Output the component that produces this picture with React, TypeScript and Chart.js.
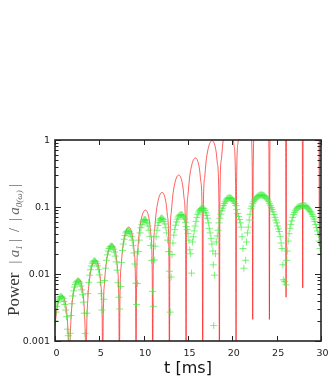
import React, { useEffect, useRef } from "react";
import { Chart, registerables } from "chart.js";

Chart.register(...registerables);

// ---- axis ticks ----
const xTicks = [0, 5, 10, 15, 20, 25, 30];
const xTickLabels = ["0", "5", "10", "15", "20", "25", "30"];
const yTicks = [0.001, 0.01, 0.1, 1];
const yTickLabels = ["0.001", "0.01", "0.1", "1"];
const yMinorMultipliers = [2, 3, 4, 5, 6, 7, 8, 9];

// ---- red line: |a1| / |a0(w)| [t ms, value] ----
const redCurve: [number, number][] = [
  [-0.27, 0.0002], [-0.214, 0.000334], [-0.044, 0.00138], [0.106, 0.00231], [0.294, 0.00338], [0.52, 0.00435], [0.783, 0.0048], [0.97, 0.00456], [1.14, 0.00388], [1.272, 0.00307], [1.384, 0.00218], [1.554, 0.00059],
  [1.6, 0.0002], [1.656, 0.00059], [1.826, 0.00244], [1.976, 0.0041], [2.164, 0.00598], [2.39, 0.00771], [2.653, 0.0085], [2.84, 0.00807], [3.01, 0.00687], [3.142, 0.00543], [3.254, 0.00387], [3.424, 0.00105],
  [3.5, 0.0002], [3.556, 0.00113], [3.726, 0.00468], [3.876, 0.00786], [4.064, 0.01148], [4.29, 0.01478], [4.553, 0.0163], [4.74, 0.01547], [4.91, 0.01317], [5.042, 0.01042], [5.154, 0.00742], [5.324, 0.002],
  [5.38, 0.0002], [5.436, 0.00195], [5.606, 0.00804], [5.756, 0.0135], [5.944, 0.0197], [6.17, 0.0254], [6.433, 0.028], [6.62, 0.0266], [6.79, 0.0226], [6.922, 0.0179], [7.034, 0.0127], [7.204, 0.00344],
  [7.26, 0.0002], [7.316, 0.00348], [7.486, 0.01435], [7.636, 0.0241], [7.824, 0.0352], [8.05, 0.0454], [8.313, 0.05], [8.5, 0.0475], [8.67, 0.0404], [8.802, 0.032], [8.914, 0.0228], [9.084, 0.00615],
  [9.14, 0.0002], [9.196, 0.00626], [9.366, 0.0258], [9.516, 0.0434], [9.704, 0.0634], [9.93, 0.0816], [10.193, 0.09], [10.38, 0.0854], [10.55, 0.0727], [10.682, 0.0575], [10.794, 0.041], [10.964, 0.0111],
  [11.02, 0.0002], [11.076, 0.0115], [11.246, 0.0474], [11.396, 0.0795], [11.584, 0.116], [11.81, 0.15], [12.073, 0.165], [12.26, 0.157], [12.43, 0.133], [12.562, 0.105], [12.674, 0.0751], [12.844, 0.0203],
  [12.9, 0.0002], [12.956, 0.0209], [13.126, 0.0861], [13.276, 0.145], [13.464, 0.211], [13.69, 0.272], [13.953, 0.3], [14.14, 0.285], [14.31, 0.242], [14.442, 0.192], [14.554, 0.137], [14.724, 0.0369],
  [14.78, 0.0002], [14.836, 0.0376], [15.006, 0.155], [15.156, 0.26], [15.344, 0.38], [15.57, 0.49], [15.833, 0.54], [16.02, 0.512], [16.19, 0.436], [16.322, 0.345], [16.434, 0.246], [16.604, 0.0664],
  [16.66, 0.0002], [16.716, 0.0682], [16.886, 0.281], [17.036, 0.472], [17.224, 0.69], [17.45, 0.889], [17.713, 0.98], [17.9, 0.93], [18.07, 0.792], [18.202, 0.626], [18.314, 0.446], [18.484, 0.121],
  [18.54, 0.0002], [18.596, 0.125], [18.766, 0.517], [18.916, 0.868], [19.104, 1.27], [19.33, 1.63], [19.593, 1.8], [19.78, 1.71], [19.95, 1.45], [20.082, 1.15], [20.194, 0.819], [20.364, 0.221],
  [20.42, 0.0003], [20.476, 0.223], [20.646, 0.918], [20.796, 1.54], [20.984, 2.25], [21.21, 2.9], [21.473, 3.2], [21.66, 3.04], [21.83, 2.59], [21.962, 2.04], [22.074, 1.46], [22.244, 0.394],
  [22.3, 0.0021], [22.356, 0.404], [22.526, 1.66], [22.676, 2.8], [22.864, 4.08], [23.09, 5.26], [23.353, 5.8], [23.54, 5.5], [23.71, 4.69], [23.842, 3.71], [23.954, 2.64], [24.124, 0.713],
  [24.18, 0.0021], [24.236, 0.731], [24.406, 3.01], [24.556, 5.06], [24.744, 7.39], [24.97, 9.52], [25.233, 10.5], [25.42, 9.96], [25.59, 8.48], [25.722, 6.71], [25.834, 4.78], [26.004, 1.29],
  [26.06, 0.0045], [26.116, 1.32], [26.286, 5.45], [26.436, 9.16], [26.624, 13.4], [26.85, 17.2], [27.113, 19], [27.3, 18], [27.47, 15.4], [27.602, 12.1], [27.714, 8.65], [27.884, 2.34],
  [27.94, 0.0062], [27.996, 2.37], [28.166, 9.76], [28.316, 16.4], [28.504, 23.9], [28.73, 30.8], [28.993, 34], [29.18, 32.3], [29.35, 27.5], [29.482, 21.7], [29.594, 15.5], [29.764, 4.18],
  [29.82, 0.026], [29.876, 4.2], [30.046, 17.5],
];

// ---- green crosses [t ms, value] ----
const greenPoints: [number, number][] = [
  [0, 0.002], [0.1, 0.0027], [0.2, 0.0033], [0.3, 0.0038], [0.4, 0.0041], [0.5, 0.0044], [0.6, 0.0046], [0.7, 0.0046], [0.8, 0.0045], [0.9, 0.0043], [1.0, 0.0039], [1.1, 0.0035], [1.2, 0.0029], [1.3, 0.0023], [1.4, 0.0015], [1.5, 0.0012],
  [1.7, 0.0013], [1.8, 0.0024], [1.9, 0.0036], [2.0, 0.0047], [2.1, 0.0056], [2.2, 0.0064], [2.3, 0.007], [2.4, 0.0075], [2.5, 0.0078], [2.6, 0.0079], [2.7, 0.0077], [2.8, 0.0073], [2.9, 0.0066], [3.0, 0.0058], [3.1, 0.0049], [3.2, 0.0038], [3.3, 0.0026], [3.4, 0.0013],
  [3.6, 0.0026], [3.7, 0.0051], [3.8, 0.0075], [3.9, 0.0096], [4.0, 0.0116], [4.1, 0.0132], [4.2, 0.0145], [4.3, 0.0153], [4.4, 0.0157], [4.5, 0.0157], [4.6, 0.0153], [4.7, 0.0144], [4.8, 0.0132], [4.9, 0.0116], [5.0, 0.0097], [5.1, 0.0075], [5.2, 0.0051], [5.3, 0.0029],
  [5.5, 0.0042], [5.6, 0.008], [5.7, 0.0122], [5.8, 0.016], [5.9, 0.0193], [6.0, 0.022], [6.1, 0.024], [6.2, 0.0253], [6.3, 0.0259], [6.4, 0.026], [6.5, 0.0252], [6.6, 0.0235], [6.7, 0.0213], [6.8, 0.0185], [6.9, 0.0152], [7.0, 0.0114], [7.1, 0.0074], [7.2, 0.0045],
  [7.3, 0.003], [7.4, 0.0065], [7.5, 0.0149], [7.6, 0.0225], [7.7, 0.028], [7.8, 0.033], [7.9, 0.0375], [8.0, 0.041], [8.1, 0.043], [8.2, 0.044], [8.3, 0.0438], [8.4, 0.0425], [8.5, 0.04], [8.6, 0.0365], [8.7, 0.032], [8.8, 0.0267], [8.9, 0.0206], [9.0, 0.0141], [9.1, 0.0073], [9.2, 0.0035],
  [9.3, 0.0072], [9.4, 0.0217], [9.5, 0.032], [9.6, 0.041], [9.7, 0.049], [9.8, 0.055], [9.9, 0.06], [10.0, 0.0635], [10.1, 0.0648], [10.2, 0.0645], [10.3, 0.062], [10.4, 0.058], [10.5, 0.052], [10.6, 0.045], [10.7, 0.0365], [10.8, 0.0267], [10.9, 0.016], [11.0, 0.0055], [11.1, 0.0033],
  [11.2, 0.0162], [11.3, 0.026], [11.4, 0.036], [11.5, 0.045], [11.6, 0.053], [11.7, 0.059], [11.8, 0.0635], [11.9, 0.0665], [12.0, 0.068], [12.1, 0.068], [12.2, 0.065], [12.3, 0.061], [12.4, 0.056], [12.5, 0.049], [12.6, 0.041], [12.7, 0.032], [12.8, 0.0216], [12.9, 0.011], [13.0, 0.0027], [13.1, 0.009],
  [13.2, 0.0195], [13.3, 0.029], [13.4, 0.038], [13.5, 0.046], [13.6, 0.0535], [13.7, 0.06], [13.8, 0.066], [13.9, 0.071], [14.0, 0.074], [14.1, 0.076], [14.2, 0.077], [14.3, 0.0765], [14.4, 0.075], [14.5, 0.071], [14.6, 0.066], [14.7, 0.059], [14.8, 0.051], [14.9, 0.046], [15.0, 0.04], [15.1, 0.032], [15.2, 0.023], [15.3, 0.02], [15.4, 0.0103],
  [15.5, 0.03], [15.6, 0.036], [15.7, 0.044], [15.8, 0.052], [15.9, 0.061], [16.0, 0.07], [16.1, 0.078], [16.2, 0.084], [16.3, 0.089], [16.4, 0.092], [16.5, 0.095], [16.6, 0.096], [16.7, 0.096], [16.8, 0.094], [16.9, 0.089], [17.0, 0.082], [17.1, 0.075], [17.2, 0.068], [17.3, 0.058], [17.4, 0.048], [17.5, 0.041], [17.6, 0.034], [17.7, 0.028], [17.8, 0.022], [17.85, 0.0137], [17.9, 0.0017], [18.0, 0.0096],
  [18.1, 0.02], [18.2, 0.03], [18.3, 0.037], [18.4, 0.045], [18.5, 0.058], [18.6, 0.068], [18.7, 0.078], [18.8, 0.088], [18.9, 0.096], [19.0, 0.105], [19.1, 0.113], [19.2, 0.12], [19.3, 0.127], [19.4, 0.132], [19.5, 0.135], [19.6, 0.137], [19.7, 0.137], [19.8, 0.136], [19.9, 0.134], [20.0, 0.13],
  [20.1, 0.125], [20.2, 0.12], [20.3, 0.113], [20.4, 0.105], [20.5, 0.092], [20.6, 0.08], [20.7, 0.072], [20.8, 0.065], [20.9, 0.058], [21.0, 0.05], [21.1, 0.036], [21.2, 0.024], [21.3, 0.0122],
  [21.5, 0.016], [21.6, 0.03], [21.7, 0.041], [21.8, 0.05], [21.9, 0.064], [22.0, 0.078], [22.1, 0.094], [22.2, 0.103], [22.3, 0.112], [22.4, 0.12], [22.5, 0.127], [22.6, 0.132], [22.7, 0.137], [22.8, 0.142], [22.9, 0.145], [23.0, 0.148], [23.1, 0.15], [23.2, 0.151], [23.3, 0.151], [23.4, 0.151], [23.5, 0.149], [23.6, 0.147], [23.7, 0.143], [23.8, 0.138], [23.9, 0.133],
  [24.0, 0.127], [24.1, 0.12], [24.2, 0.112], [24.3, 0.105], [24.4, 0.098], [24.5, 0.092], [24.6, 0.085], [24.7, 0.077], [24.8, 0.07], [24.9, 0.064], [25.0, 0.058], [25.1, 0.052], [25.2, 0.047], [25.3, 0.043], [25.4, 0.036], [25.5, 0.029], [25.6, 0.024], [25.7, 0.0137], [25.75, 0.0082], [25.9, 0.0077], [26.05, 0.0069],
  [26.15, 0.016], [26.2, 0.022], [26.3, 0.031], [26.4, 0.04], [26.5, 0.048], [26.6, 0.055], [26.7, 0.062], [26.8, 0.07], [26.9, 0.077], [27.0, 0.083], [27.1, 0.088], [27.2, 0.093], [27.3, 0.096], [27.4, 0.099], [27.5, 0.101], [27.6, 0.102], [27.7, 0.103], [27.8, 0.104], [27.9, 0.105], [28.0, 0.105],
  [28.1, 0.105], [28.2, 0.104], [28.3, 0.102], [28.4, 0.1], [28.5, 0.097], [28.6, 0.094], [28.7, 0.09], [28.8, 0.086], [28.9, 0.082], [29.0, 0.077], [29.1, 0.072], [29.2, 0.066], [29.3, 0.061], [29.4, 0.055], [29.5, 0.049], [29.6, 0.044], [29.7, 0.039], [29.8, 0.031], [29.9, 0.024], [30.0, 0.02],
];

const xTitle = "t [ms]";

const framePlugin = {
  id: "framePlugin",
  afterDatasetsDraw(chart: any) {
    const { ctx, chartArea: a, scales } = chart;
    const xs = scales.x;
    const ys = scales.y;
    ctx.save();
    // frame
    ctx.strokeStyle = "#222";
    ctx.lineWidth = 1.6;
    ctx.strokeRect(a.left, a.top, a.right - a.left, a.bottom - a.top);
    // y ticks (inward, both sides)
    ctx.lineWidth = 1;
    ctx.beginPath();
    yTicks.forEach((d, i) => {
      const py = Math.round(ys.getPixelForValue(d)) + 0.5;
      ctx.moveTo(a.left, py); ctx.lineTo(a.left + 6, py);
      ctx.moveTo(a.right, py); ctx.lineTo(a.right - 6, py);
      if (i < yTicks.length - 1) {
        yMinorMultipliers.forEach((m) => {
          const pm = Math.round(ys.getPixelForValue(d * m)) + 0.5;
          ctx.moveTo(a.left, pm); ctx.lineTo(a.left + 3.5, pm);
          ctx.moveTo(a.right, pm); ctx.lineTo(a.right - 3.5, pm);
        });
      }
    });
    // x ticks (inward, top and bottom)
    xTicks.forEach((v) => {
      const px = Math.round(xs.getPixelForValue(v)) + 0.5;
      ctx.moveTo(px, a.bottom); ctx.lineTo(px, a.bottom - 5);
      ctx.moveTo(px, a.top); ctx.lineTo(px, a.top + 5);
    });
    ctx.stroke();

    // tick labels
    ctx.fillStyle = "#222";
    ctx.font = '9.5px "DejaVu Sans"';
    ctx.textAlign = "right";
    ctx.textBaseline = "middle";
    yTicks.forEach((v, i) => {
      ctx.fillText(yTickLabels[i], a.left - 5, ys.getPixelForValue(v) + 0.5);
    });
    ctx.textAlign = "center";
    xTicks.forEach((v, i) => {
      ctx.fillText(xTickLabels[i], xs.getPixelForValue(v) + 1.5, a.bottom + 13);
    });

    // x title
    ctx.font = '16px "DejaVu Sans"';
    ctx.fillStyle = "#111";
    ctx.fillText(xTitle, 188, 369);

    // y title (rotated, mixed fonts)
    const pieces: { t: string; f: string; c: string; dy: number; gap?: number }[] = [
      { t: "Power", f: '17px "Liberation Serif"', c: "#333", dy: 0, gap: 9 },
      { t: "| ", f: '14px "Liberation Serif"', c: "#666", dy: 0 },
      { t: "a", f: 'italic 15px "Liberation Serif"', c: "#666", dy: 0 },
      { t: "1", f: 'italic 9px "Liberation Serif"', c: "#666", dy: 3 },
      { t: " |  /  | ", f: '14px "Liberation Serif"', c: "#666", dy: 0 },
      { t: "a", f: 'italic 15px "Liberation Serif"', c: "#666", dy: 0 },
      { t: "0(\u03c9)", f: 'italic 9px "Liberation Serif"', c: "#666", dy: 3 },
      { t: " |", f: '14px "Liberation Serif"', c: "#666", dy: 0 },
    ];
    let total = 0;
    const widths = pieces.map((p) => {
      ctx.font = p.f;
      const w = ctx.measureText(p.t).width + (p.gap || 0);
      total += w;
      return w;
    });
    ctx.translate(18.5, 250);
    ctx.rotate(-Math.PI / 2);
    ctx.textAlign = "left";
    ctx.textBaseline = "alphabetic";
    let cx = -total / 2;
    pieces.forEach((p, i) => {
      ctx.font = p.f;
      ctx.fillStyle = p.c;
      ctx.fillText(p.t, cx, p.dy);
      cx += widths[i];
    });
    ctx.restore();
  },
};

export default function App() {
  const ref = useRef<HTMLCanvasElement | null>(null);
  useEffect(() => {
    if (!ref.current) return;
    const chart = new Chart(ref.current, {
      type: "scatter",
      data: {
        datasets: [
          {
            label: "green",
            data: greenPoints.map(([x, y]) => ({ x, y })),
            showLine: false,
            pointStyle: "cross",
            pointRadius: 3.5,
            pointBorderWidth: 0.9,
            borderColor: "rgba(60,235,60,0.75)",
            backgroundColor: "rgba(60,235,60,0.75)",
            pointBorderColor: "rgba(60,235,60,0.75)",
          } as any,
          {
            label: "red",
            data: redCurve.map(([x, y]) => ({ x, y })),
            showLine: true,
            pointRadius: 0,
            borderWidth: 0.9,
            borderColor: "rgba(255,0,0,0.7)",
            cubicInterpolationMode: "monotone",
            fill: false,
          } as any,
        ],
      },
      options: {
        animation: false,
        responsive: false,
        events: [],
        layout: { padding: { left: 55, right: 8, top: 140, bottom: 38 } },
        plugins: { legend: { display: false }, tooltip: { enabled: false } },
        scales: {
          x: { type: "linear", min: 0, max: 30, display: false },
          y: { type: "logarithmic", min: 0.001, max: 1, display: false },
        },
      },
      plugins: [framePlugin],
    });
    return () => chart.destroy();
  }, []);
  return (
    <div style={{ position: "absolute", left: 0, top: 0, width: 329, height: 379, background: "#fff" }}>
      <canvas ref={ref} width={329} height={379} style={{ display: "block" }} />
    </div>
  );
}
